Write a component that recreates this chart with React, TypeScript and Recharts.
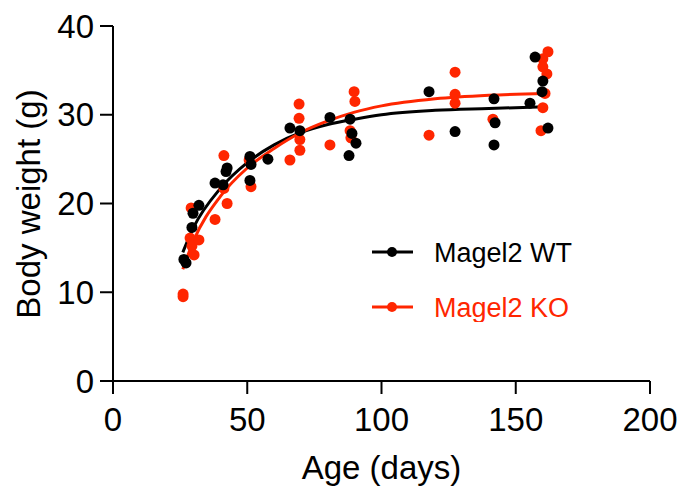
import React from "react";
import {
  ComposedChart,
  Line,
  Scatter,
  XAxis,
  YAxis,
  Label,
} from "recharts";

// ages (days) and body weights (g)
const wtAge = [26.4, 27.2, 29.4, 29.8, 32.0, 38.0, 41.0, 42.1, 42.5, 51.0, 51.4, 51.0, 57.7, 65.9, 69.6, 80.8, 87.9, 88.3, 89.0, 90.5, 117.7, 127.4, 141.9, 142.3, 141.9, 155.3, 157.2, 159.8, 160.1, 162.0];
const wtWeight = [13.7, 13.3, 17.3, 18.9, 19.8, 22.3, 22.1, 23.6, 24.0, 25.3, 24.4, 22.6, 25.0, 28.5, 28.2, 29.7, 25.4, 29.5, 27.9, 26.8, 32.6, 28.1, 31.8, 29.1, 26.6, 31.3, 36.5, 32.6, 33.8, 28.5];

const koAge = [26.1, 26.1, 29.1, 28.7, 29.4, 30.2, 32.0, 38.0, 41.3, 42.5, 41.3, 50.7, 51.4, 65.9, 69.3, 69.3, 69.6, 69.6, 80.8, 88.3, 89.8, 90.1, 88.6, 117.7, 127.4, 127.4, 127.4, 141.5, 159.4, 160.1, 160.1, 162.0, 161.6, 160.9, 160.1];
const koWeight = [9.8, 9.5, 19.5, 16.1, 15.2, 14.2, 15.9, 18.2, 25.4, 20.0, 21.7, 24.9, 21.9, 24.9, 31.2, 29.6, 27.2, 26.0, 26.6, 28.2, 32.6, 31.5, 27.4, 27.7, 34.8, 32.3, 31.3, 29.5, 28.2, 36.3, 35.4, 37.1, 34.6, 32.4, 30.8];

// fitted curves, sampled from the figure
const curveAge = [26, 30, 40, 50, 60, 70, 80, 90, 100, 120, 140, 161];
const wtCurve = [14.5, 17.3, 21.7, 24.6, 26.6, 28.0, 28.9, 29.5, 30.0, 30.5, 30.7, 30.9];
const koCurve = [12.6, 15.8, 20.8, 24.0, 26.2, 28.0, 29.3, 30.3, 31.0, 31.8, 32.2, 32.4];

const xTicks = [0, 50, 100, 150, 200];
const yTicks = [0, 10, 20, 30, 40];

const BLACK = "#000000";
const RED = "#ff2600";
const FONT = "'Liberation Sans', Arial, sans-serif";

const wtPoints = wtAge.map((age, i) => ({ age, w: wtWeight[i] }));
const koPoints = koAge.map((age, i) => ({ age, w: koWeight[i] }));
const wtFit = curveAge.map((age, i) => ({ age, w: wtCurve[i] }));
const koFit = curveAge.map((age, i) => ({ age, w: koCurve[i] }));

const legendItems = [
  { name: "Magel2 WT", color: BLACK },
  { name: "Magel2 KO", color: RED },
];

const dot = (color: string) => (props: any) =>
  <circle cx={props.cx} cy={props.cy} r={5.5} fill={color} />;

const LegendBox = () => (
  <svg
    width={230}
    height={100}
    style={{ position: "absolute", left: 360, top: 222 }}
  >
    {legendItems.map((s, i) => {
      const y = 30 + i * 55;
      return (
        <g key={s.name}>
          <line x1={12} x2={53} y1={y} y2={y} stroke={s.color} strokeWidth={3} />
          <circle cx={32} cy={y} r={5} fill={s.color} />
          <text x={74} y={y + 10} fontSize={27} fontFamily={FONT} fill={s.color}>
            {s.name}
          </text>
        </g>
      );
    })}
  </svg>
);

const YTitle = () => (
  <text
    x={40}
    y={204}
    transform="rotate(-90 40 204)"
    textAnchor="middle"
    fontSize={33}
    fontFamily={FONT}
    fill={BLACK}
  >
    Body weight (g)
  </text>
);

const App: React.FC = () => {
  const tick = { fontSize: 33, fill: BLACK, fontFamily: FONT };
  return (
    <div style={{ position: "absolute", left: 0, top: 0, width: 683, height: 491, background: "#fff" }}>
      <ComposedChart
        width={683}
        height={491}
        margin={{ top: 26, right: 33, bottom: 0, left: 0 }}
      >
        <XAxis
          dataKey="age"
          type="number"
          domain={[0, 200]}
          ticks={xTicks}
          allowDataOverflow
          height={110}
          tickSize={13}
          tickMargin={14}
          tick={tick}
          stroke={BLACK}
          strokeWidth={2}
          tickLine={{ stroke: BLACK, strokeWidth: 2 }}
        >
          <Label
            value="Age (days)"
            position="insideBottom"
            offset={12}
            style={{ fontSize: 33, fill: BLACK, fontFamily: FONT }}
          />
        </XAxis>
        <YAxis
          dataKey="w"
          type="number"
          domain={[0, 40]}
          ticks={yTicks}
          allowDataOverflow
          width={113}
          tickSize={13}
          tickMargin={6}
          tick={tick}
          stroke={BLACK}
          strokeWidth={2}
          tickLine={{ stroke: BLACK, strokeWidth: 2 }}
          label={{ content: () => <YTitle /> }}
        />
        <Line
          data={wtFit}
          dataKey="w"
          type="monotone"
          stroke={BLACK}
          strokeWidth={3}
          dot={false}
          isAnimationActive={false}
        />
        <Line
          data={koFit}
          dataKey="w"
          type="monotone"
          stroke={RED}
          strokeWidth={3}
          dot={false}
          isAnimationActive={false}
        />
        <Scatter data={koPoints} dataKey="w" shape={dot(RED)} isAnimationActive={false} />
        <Scatter data={wtPoints} dataKey="w" shape={dot(BLACK)} isAnimationActive={false} />
      </ComposedChart>
      <LegendBox />
    </div>
  );
};

export default App;
